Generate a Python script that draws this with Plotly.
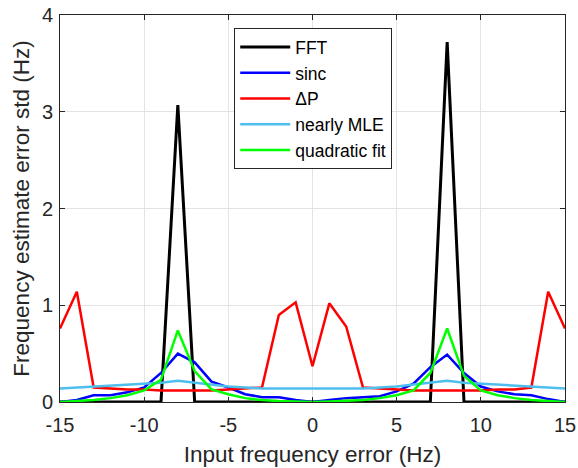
import plotly.graph_objects as go

x_hz = list(range(-15, 16))

fft = [0, 0, 0, 0, 0, 0, 0, 3.07, 0, 0, 0, 0, 0, 0, 0, 0,
       0, 0, 0, 0, 0, 0, 0, 3.72, 0, 0, 0, 0, 0, 0, 0]
sinc = [0.0, 0.02, 0.07, 0.07, 0.10, 0.15, 0.30, 0.50, 0.41, 0.21, 0.15, 0.08, 0.05, 0.05, 0.02, 0.0,
        0.02, 0.04, 0.05, 0.06, 0.11, 0.19, 0.36, 0.49, 0.30, 0.16, 0.11, 0.08, 0.07, 0.03, 0.0]
deltaP = [0.76, 1.14, 0.15, 0.14, 0.13, 0.13, 0.12, 0.12, 0.12, 0.12, 0.13, 0.14, 0.15, 0.90, 1.03, 0.37,
          1.02, 0.78, 0.15, 0.14, 0.13, 0.12, 0.12, 0.12, 0.12, 0.12, 0.13, 0.13, 0.15, 1.14, 0.76]
mle = [0.14, 0.15, 0.16, 0.17, 0.18, 0.19, 0.20, 0.22, 0.20, 0.18, 0.16, 0.15, 0.14, 0.14, 0.14, 0.14,
       0.14, 0.14, 0.14, 0.15, 0.16, 0.18, 0.20, 0.22, 0.20, 0.19, 0.18, 0.17, 0.16, 0.15, 0.14]
quad = [0.0, 0.01, 0.02, 0.04, 0.07, 0.12, 0.23, 0.74, 0.32, 0.13, 0.08, 0.04, 0.02, 0.01, 0.005, 0.0,
        0.005, 0.01, 0.02, 0.04, 0.07, 0.12, 0.30, 0.76, 0.27, 0.12, 0.07, 0.04, 0.02, 0.01, 0.0]

x_tickvals = [-15, -10, -5, 0, 5, 10, 15]
x_ticktext = ["-15", "-10", "-5", "0", "5", "10", "15"]
y_tickvals = [0, 1, 2, 3, 4]
y_ticktext = ["0", "1", "2", "3", "4"]

series = [
    ("FFT", fft, "#000000", 3),
    ("sinc", sinc, "#0000FF", 2.5),
    ("ΔP", deltaP, "#FF0000", 2.5),
    ("nearly MLE", mle, "#4DBEEE", 2.5),
    ("quadratic fit", quad, "#00FF00", 2.5),
]

fig = go.Figure()
for name, ys, col, w in series:
    fig.add_trace(go.Scatter(x=x_hz, y=ys, mode="lines", name=name,
                             line=dict(color=col, width=w)))

font = "Liberation Sans, Arial, Helvetica, sans-serif"
axis_common = dict(
    showline=True, linecolor="#262626", linewidth=1, mirror="ticks",
    ticks="inside", ticklen=5, tickcolor="#262626",
    showgrid=True, gridcolor="#e3e3e3", gridwidth=1, zeroline=False,
    tickfont=dict(size=20, color="#262626", family=font),
    automargin=False,
)
fig.update_layout(
    width=578, height=468,
    margin=dict(l=60, r=13, t=15, b=66),
    paper_bgcolor="white", plot_bgcolor="white",
    font=dict(family=font, color="#262626"),
    xaxis=dict(range=[-15, 15], tickvals=x_tickvals, ticktext=x_ticktext,
               ticklabelstandoff=5,
               title=dict(text="Input frequency error (Hz)", font=dict(size=22.5), standoff=11),
               **axis_common),
    yaxis=dict(range=[0, 4], tickvals=y_tickvals, ticktext=y_ticktext,
               ticklabelstandoff=2,
               title=dict(text="Frequency estimate error std (Hz)", font=dict(size=22.5), standoff=6),
               **axis_common),
    legend=dict(x=0.345, y=0.966, xanchor="left", yanchor="top",
                bgcolor="white", bordercolor="#262626", borderwidth=1,
                font=dict(size=17.5, color="#000000", family=font),
                itemwidth=50, tracegroupgap=0),
    showlegend=True,
)

fig.write_html("out.html")
